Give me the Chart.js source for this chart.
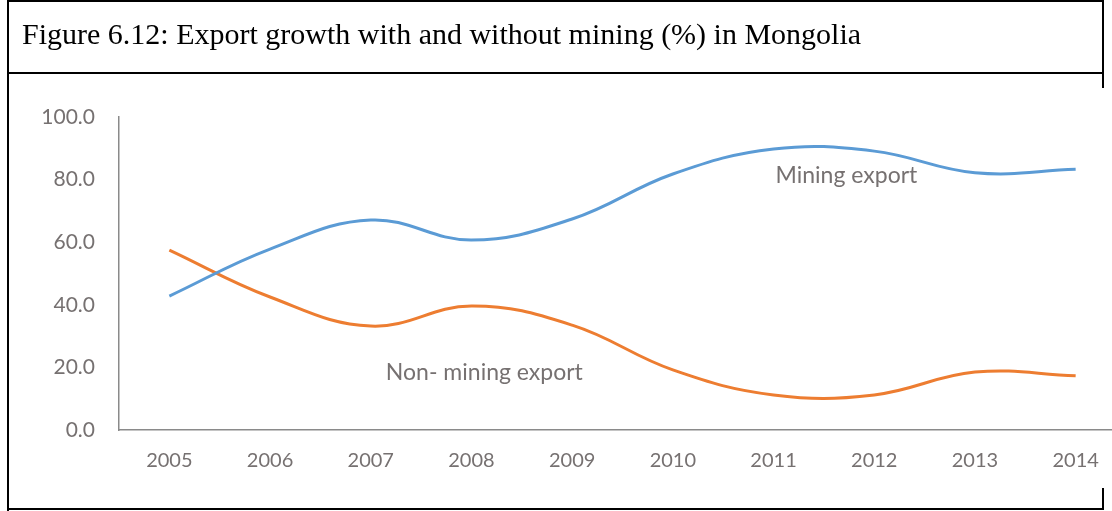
<!DOCTYPE html>
<html>
<head>
<meta charset="utf-8">
<script src="https://cdn.jsdelivr.net/npm/chart.js@4.4.1/dist/chart.umd.min.js"></script>
<style>
  html, body { margin: 0; padding: 0; background: #fff; width: 1112px; height: 511px; overflow: hidden; position: relative; }
  #c { position: absolute; left: 0; top: 0; }
  .ln { position: absolute; background: #000; }
  #title { position: absolute; left: 22px; top: 14px; font-family: "Liberation Serif", "Times New Roman", serif; font-size: 30px; color: #000; white-space: nowrap; line-height: 40px; }
</style>
</head>
<body>
<canvas id="c" width="1126" height="511"></canvas>
<div id="title">Figure 6.12: Export growth with and without mining (%) in Mongolia</div>
<!-- frame lines -->
<div class="ln" style="left:7px; top:0px; width:1097px; height:2px;"></div>
<div class="ln" style="left:7px; top:0px; width:2px; height:511px;"></div>
<div class="ln" style="left:1102px; top:0px; width:2px; height:88px;"></div>
<div class="ln" style="left:7px; top:72px; width:1097px; height:2px;"></div>
<div class="ln" style="left:7px; top:508px; width:1097px; height:2px;"></div>
<div class="ln" style="left:1102px; top:488px; width:2px; height:22px;"></div>
<script>
const categories = ["2005","2006","2007","2008","2009","2010","2011","2012","2013","2014"];
const miningExport = [42.8, 57.8, 67.1, 60.7, 67.4, 81.8, 89.8, 89.1, 82.2, 83.3];
const nonMiningExport = [57.5, 42.5, 33.2, 39.6, 33.5, 19.2, 11.2, 11.2, 18.5, 17.3];
const yTicks = [0, 20, 40, 60, 80, 100];
const seriesLabels = ["Mining export", "Non- mining export"];
// label anchors: [category position, value]
const labelAnchors = [[6.02, 81.2], [2.15, 18.2]];

const FONT = "Lato, 'Open Sans', sans-serif";
const TXT = "#767171";

const labelPlugin = {
  id: 'seriesLabels',
  afterDatasetsDraw(chart) {
    const {ctx, scales: {x, y}} = chart;
    ctx.save();
    ctx.font = "23px " + FONT;
    ctx.fillStyle = TXT;
    ctx.textAlign = 'left';
    ctx.textBaseline = 'middle';
    seriesLabels.forEach((t, i) => {
      ctx.fillText(t, x.getPixelForValue(labelAnchors[i][0]), y.getPixelForValue(labelAnchors[i][1]));
    });
    ctx.restore();
  }
};

new Chart(document.getElementById('c'), {
  type: 'line',
  data: {
    labels: categories,
    datasets: [
      { label: seriesLabels[0], data: miningExport, borderColor: '#5B9BD5', borderWidth: 3, pointRadius: 0, tension: 0.4, fill: false },
      { label: seriesLabels[1], data: nonMiningExport, borderColor: '#ED7D31', borderWidth: 3, pointRadius: 0, tension: 0.4, fill: false }
    ]
  },
  options: {
    responsive: false,
    animation: false,
    devicePixelRatio: 1,
    layout: { padding: { top: 117, right: 0, bottom: 0, left: 0 } },
    plugins: { legend: { display: false }, tooltip: { enabled: false } },
    scales: {
      x: {
        offset: true,
        grid: { display: false, drawTicks: false },
        border: { display: true, color: '#8a8a8a', width: 1.5 },
        ticks: { color: TXT, font: { family: FONT, size: 20 }, padding: 19, maxRotation: 0, autoSkip: false },
        afterFit(s) { s.height = 81; }
      },
      y: {
        min: 0, max: 100,
        afterBuildTicks(s) { s.ticks = yTicks.map(v => ({ value: v })); },
        grid: { display: false, drawTicks: false },
        border: { display: true, color: '#8a8a8a', width: 1.5 },
        ticks: { color: TXT, font: { family: FONT, size: 21 }, padding: 24, callback: v => Number(v).toFixed(1) },
        afterFit(s) { s.width = 119; }
      }
    }
  },
  plugins: [labelPlugin]
});
</script>
</body>
</html>
